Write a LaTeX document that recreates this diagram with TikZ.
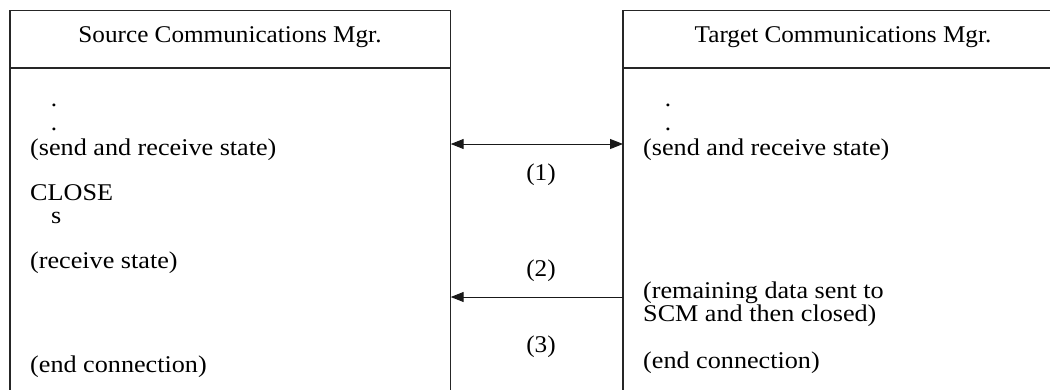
\documentclass[tikz,border=0pt]{standalone}
\usepackage{fontspec}
\setmainfont{Liberation Serif}[FakeStretch=1.05]
\newfontfamily\bodyfont{Liberation Serif}[FakeStretch=1.09]
\usetikzlibrary{arrows.meta}
\begin{document}
\begin{tikzpicture}[x=1pt,y=-1pt,
  frame/.style={draw=black!85, line width=1.2pt},
  txt/.style={anchor=base west, inner sep=0pt, font=\bodyfont\fontsize{24}{25}\selectfont},
  hdr/.style={anchor=base, inner sep=0pt, font=\fontsize{24}{25}\selectfont},
  lbl/.style={anchor=center, inner sep=0pt, font=\fontsize{24}{25}\selectfont},
  dotmark/.style={anchor=base, inner sep=0pt, font=\fontsize{24}{25}\selectfont},
  msg/.style={draw=black!90, line width=1pt},
  tip/.style={-{Triangle[length=13pt,width=10pt]}},
  tips/.style={{Triangle[length=13pt,width=10pt]}-{Triangle[length=13pt,width=10pt]}},
]
\useasboundingbox (0,0) rectangle (1050,389);
\begin{scope}
\clip (0,0) rectangle (1050,389);
% source manager: box open at the bottom
\coordinate (srcTL) at (10,10.7);
\coordinate (srcTR) at (450.7,10.7);
\coordinate (srcBL) at (10,395);
\coordinate (srcBR) at (450.7,395);
\coordinate (srcHL) at (10,68);
\coordinate (srcHR) at (450.7,68);
\draw[frame] (srcBL) -- (srcTL) -- (srcTR) -- (srcBR);
\draw[frame] (srcHL) -- (srcHR);
% target manager: runs past the right edge
\coordinate (tgtTL) at (623,10.7);
\coordinate (tgtTR) at (1063,10.7);
\coordinate (tgtBL) at (623,395);
\coordinate (tgtHL) at (623,68);
\coordinate (tgtHR) at (1063,68);
\draw[frame] (tgtBL) -- (tgtTL) -- (tgtTR);
\draw[frame] (tgtHL) -- (tgtHR);
\end{scope}

% headers
\node[hdr] (srcHead) at (230,42) {Source Communications Mgr.};
\node[hdr] (tgtHead) at (843,42) {Target Communications Mgr.};

% source side states
\node[dotmark] (sDot1) at (54,106) {.};
\node[dotmark] (sDot2) at (54,130) {.};
\node[txt] (sSR) at (30,155) {(send and receive state)};
\node[txt] (sClose) at (30,200) {CLOSE};
\node[txt] (sS) at (51,223) {s};
\node[txt] (sRecv) at (30,268) {(receive state)};
\node[txt] (sEnd) at (30,372) {(end connection)};

% target side states
\node[dotmark] (tDot1) at (668,106) {.};
\node[dotmark] (tDot2) at (668,130) {.};
\node[txt] (tSR) at (643,155) {(send and receive state)};
\node[txt] (tRem1) at (643,298) {(remaining data sent to};
\node[txt] (tRem2) at (643,321) {SCM and then closed)};
\node[txt] (tEnd) at (643,368) {(end connection)};

% message arrows
\coordinate (srcM1) at (450.7,144);
\coordinate (tgtM1) at (623,144);
\coordinate (srcM2) at (450.7,297);
\coordinate (tgtM2) at (623,297);
\draw[msg, tips] (srcM1) -- (tgtM1);
\draw[msg, tip] (tgtM2) -- (srcM2);

% step numbers
\node[lbl] (step1) at (541,175) {(1)};
\node[lbl] (step2) at (541,271) {(2)};
\node[lbl] (step3) at (541,347) {(3)};
\end{tikzpicture}
\end{document}
